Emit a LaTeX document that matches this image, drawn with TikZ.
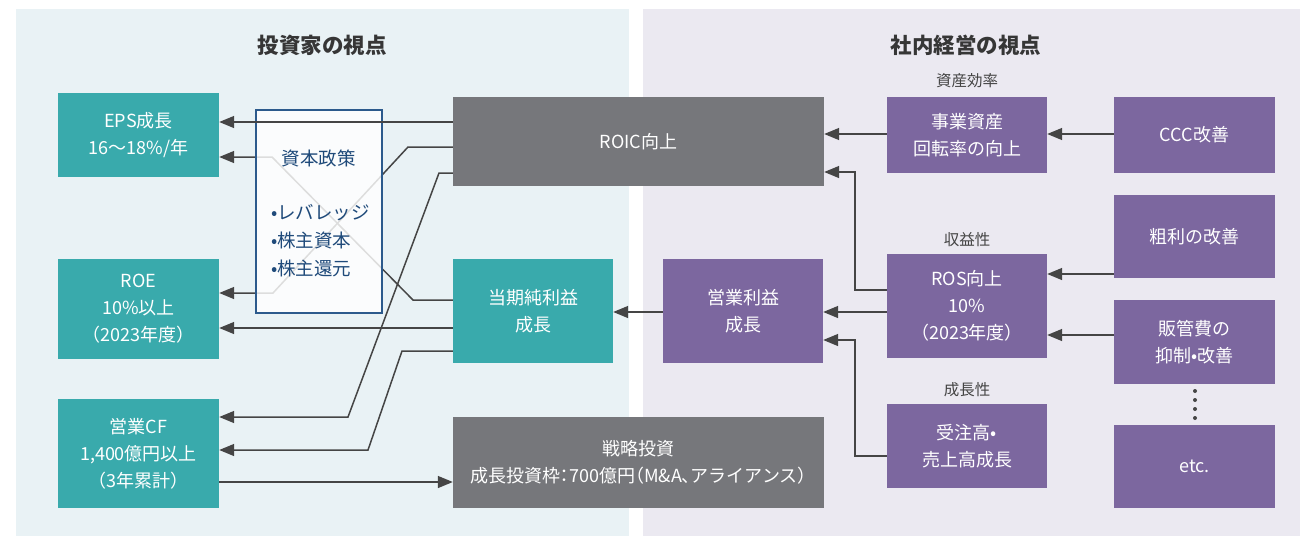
\documentclass[tikz,border=0pt]{standalone}
\usepackage{fontspec}
\setmainfont{Noto Sans CJK JP}
\usetikzlibrary{arrows.meta,calc}
\definecolor{tealbox}{HTML}{39AAAC}
\definecolor{graybox}{HTML}{76777B}
\definecolor{purplebox}{HTML}{7C679F}
\definecolor{leftbg}{HTML}{E9F2F5}
\definecolor{rightbg}{HTML}{EBE9F1}
\definecolor{linec}{HTML}{454545}
\definecolor{capblue}{HTML}{2C5A8C}
\definecolor{captext}{HTML}{1F4A7A}
\definecolor{labelc}{HTML}{444444}
\newcommand{\hw}[1]{{\addfontfeature{RawFeature=+halt}#1}}
\begin{document}
\begin{tikzpicture}[x=1pt,y=-1pt,
  box/.style={draw=none,inner sep=0pt,align=center,text=white,
    font=\fontsize{18}{27}\selectfont},
  tealnode/.style={box,fill=tealbox},
  graynode/.style={box,fill=graybox},
  purplenode/.style={box,fill=purplebox},
  conn/.style={draw=linec,line width=1.5pt,-{Triangle[length=15pt,width=12pt]}},
  lbl/.style={text=labelc,font=\fontsize{15.5}{17}\selectfont,inner sep=0pt},
  ttl/.style={text=labelc!80!black,font=\fontsize{21.5}{23}\selectfont\bfseries,inner sep=0pt},
  dot/.style={circle,fill=linec,inner sep=0pt,minimum size=4pt}
]
\useasboundingbox (0,0) rectangle (1304,536);
\fill[white] (0,0) rectangle (1304,536);
\fill[leftbg] (16,9) rectangle (629,536);
\fill[rightbg] (643,9) rectangle (1300,536);

\node[ttl] (t1) at (322,45) {投資家の視点};
\node[ttl] (t2) at (966,45) {社内経営の視点};

% left column
\node[tealnode,minimum width=161pt,minimum height=84pt] (eps) at (138.5,135) {EPS成長\\16～18\%/年};
\node[tealnode,minimum width=161pt,minimum height=100pt] (roe) at (138.5,309) {ROE\\10\%以上\\（2023年度）};
\node[tealnode,minimum width=161pt,minimum height=109pt] (cf) at (138.5,453.5) {営業CF\\1,400億円以上\\（3年累計）};

% middle
\node[graynode,minimum width=371pt,minimum height=89pt] (roic) at (638.5,141.5) {ROIC向上};
\node[tealnode,minimum width=160pt,minimum height=104pt] (ni) at (533,311) {当期純利益\\成長};
\node[graynode,minimum width=371pt,minimum height=91pt] (strat) at (638.5,462.5) {戦略投資\\成長投資枠\hw{：}700億円\hw{（}M\&A\hw{、}アライアンス\hw{）}};

% right
\node[purplenode,minimum width=160pt,minimum height=104pt] (op) at (743,311) {営業利益\\成長};
\node[purplenode,minimum width=160pt,minimum height=76pt] (asset) at (967,135) {事業資産\\回転率の向上};
\node[purplenode,minimum width=160pt,minimum height=104pt] (ros) at (967,306) {ROS向上\\10\%\\（2023年度）};
\node[purplenode,minimum width=160pt,minimum height=84pt] (order) at (967,446) {受注高•\\売上高成長};
\node[purplenode,minimum width=161pt,minimum height=76pt] (ccc) at (1194.5,135) {CCC改善};
\node[purplenode,minimum width=161pt,minimum height=83pt] (gross) at (1194.5,236.5) {粗利の改善};
\node[purplenode,minimum width=161pt,minimum height=84pt] (sga) at (1194.5,342) {販管費の\\抑制•改善};
\node[purplenode,minimum width=161pt,minimum height=83pt] (etc) at (1194.5,466.5) {etc.};

\node[lbl] (l1) at (967,81) {資産効率};
\node[lbl] (l2) at (967,240) {収益性};
\node[lbl] (l3) at (967,390) {成長性};

\node[dot] (d1) at (1195,391) {};
\node[dot] (d2) at (1195,400) {};
\node[dot] (d3) at (1195,409) {};
\node[dot] (d4) at (1195,418) {};

% left connectors (behind capital box)
\draw[conn] (ni.west |- 0,300) -- (413,300) -- (272,157) -- (eps.east |- 0,157);
\draw[conn] (roic.west |- 0,147) -- (408,147) -- (273,293) -- (roe.east |- 0,293);
\draw[conn] (roic.west |- 0,173) -- (439,173) -- (348,417) -- (cf.east |- 0,417);
\draw[conn] (ni.west |- 0,351) -- (402,351) -- (368,450) -- (cf.east |- 0,450);
\draw[conn] (ni.west |- 0,328) -- (roe.east |- 0,328);
\draw[conn] (cf.east |- 0,482) -- (strat.west |- 0,482);

% capital policy box
\node[draw=capblue,line width=1.5pt,fill=white,fill opacity=0.82,minimum width=126pt,minimum height=203pt,inner sep=0pt] (cap) at (319,211.5) {};
\node[text=captext,font=\fontsize{18.5}{20}\selectfont,inner sep=0pt] (captitle) at (318.5,158) {資本政策};
\node[text=captext,font=\fontsize{18.5}{28}\selectfont,inner sep=0pt,align=left,anchor=west] (caplist) at (271,241) {•レバレッジ\\•株主資本\\•株主還元};

\draw[conn] (roic.west |- 0,122) -- (eps.east |- 0,122);

% right connectors
\draw[conn] (ccc.west |- 0,134) -- (asset.east |- 0,134);
\draw[conn] (asset.west |- 0,134) -- (roic.east |- 0,134);
\draw[conn] (ros.west |- 0,290) -- (855,290) -- (855,172) -- (roic.east |- 0,172);
\draw[conn] (gross.west |- 0,274) -- (ros.east |- 0,274);
\draw[conn] (sga.west |- 0,335) -- (ros.east |- 0,335);
\draw[conn] (ros.west |- 0,312) -- (op.east |- 0,312);
\draw[conn] (order.west |- 0,456) -- (855,456) -- (855,340) -- (op.east |- 0,340);
\draw[conn] (op.west |- 0,312) -- (ni.east |- 0,312);
\end{tikzpicture}
\end{document}
